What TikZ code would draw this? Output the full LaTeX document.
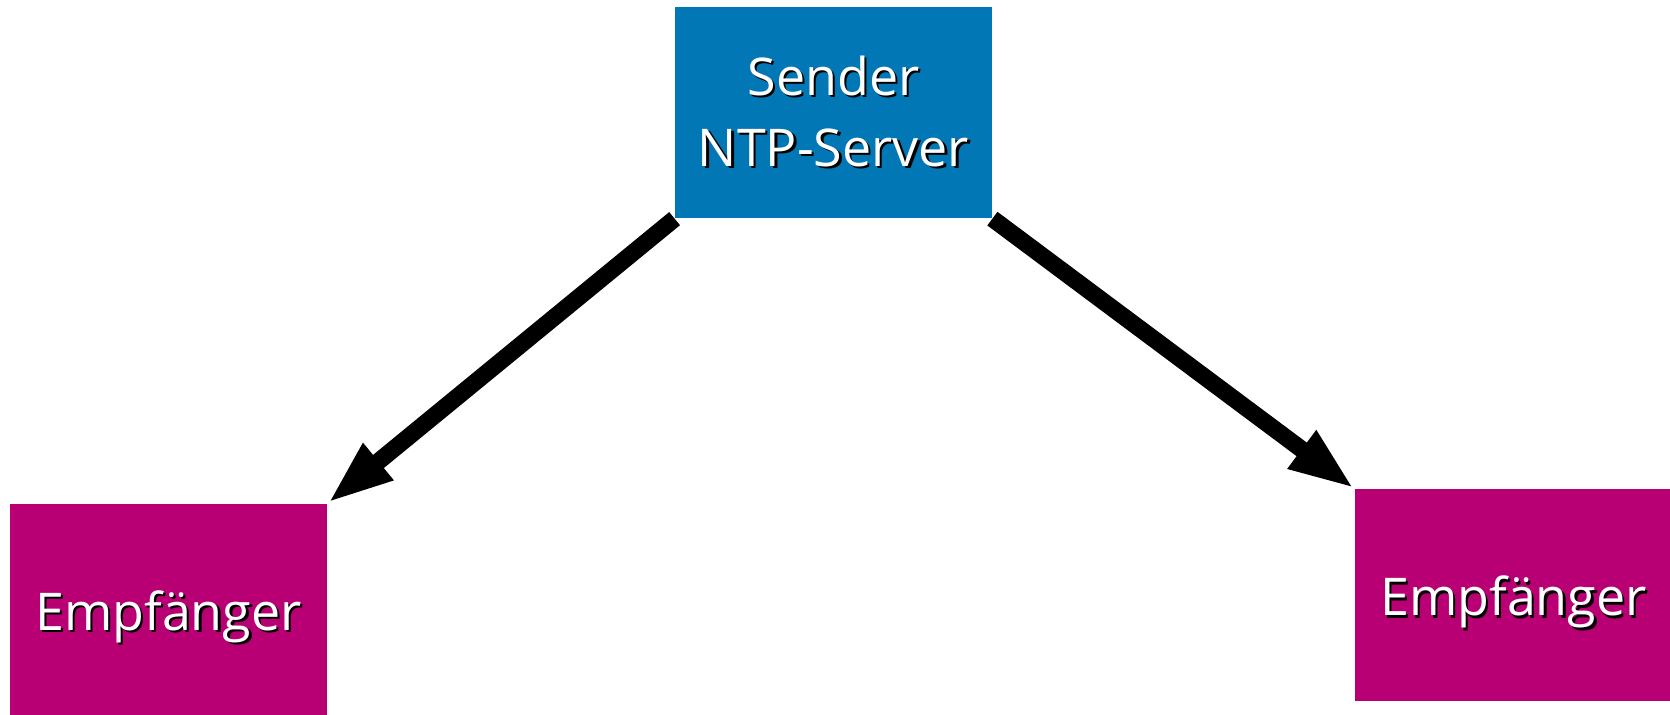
\documentclass[tikz,border=0pt]{standalone}
\usepackage{fontspec}
\setmainfont{Open Sans}
\usetikzlibrary{arrows.meta}

\definecolor{serverblue}{RGB}{2,119,182}
\definecolor{clientmagenta}{RGB}{184,0,116}

% white text with a small black drop shadow
\newcommand\shtext[1]{\leavevmode\rlap{\hspace{1.2pt}\raisebox{-1.2pt}{\color{black}#1}}#1}

\tikzset{
  box/.style={rectangle, inner sep=0pt, minimum width=158.5pt, minimum height=105.75pt,
    text=white, align=center, font=\fontsize{26pt}{35.5pt}\selectfont},
  server/.style={box, fill=serverblue},
  client/.style={box, fill=clientmagenta, text height=27.8pt, text depth=6.8pt},
  sync/.style={line width=8.5pt, -{Triangle[length=33pt, width=21.5pt]}}
}

\begin{document}
\begin{tikzpicture}[x=0.5pt, y=-0.5pt]
  \useasboundingbox (0,0) rectangle (1670,715);
  \clip (0,0) rectangle (1670,715);

  \node[server] (srv) at (833.5,112.5) {\shtext{Sender}\\\shtext{NTP-Server}};
  \node[client] (left) at (168.5,609.5) {\shtext{Empfänger}};
  \node[client] (right) at (1513.5,595) {\shtext{Empfänger}};

  \draw[sync] (srv.south west) -- (left.north east);
  \draw[sync] (srv.south east) -- (right.north west);
\end{tikzpicture}
\end{document}
